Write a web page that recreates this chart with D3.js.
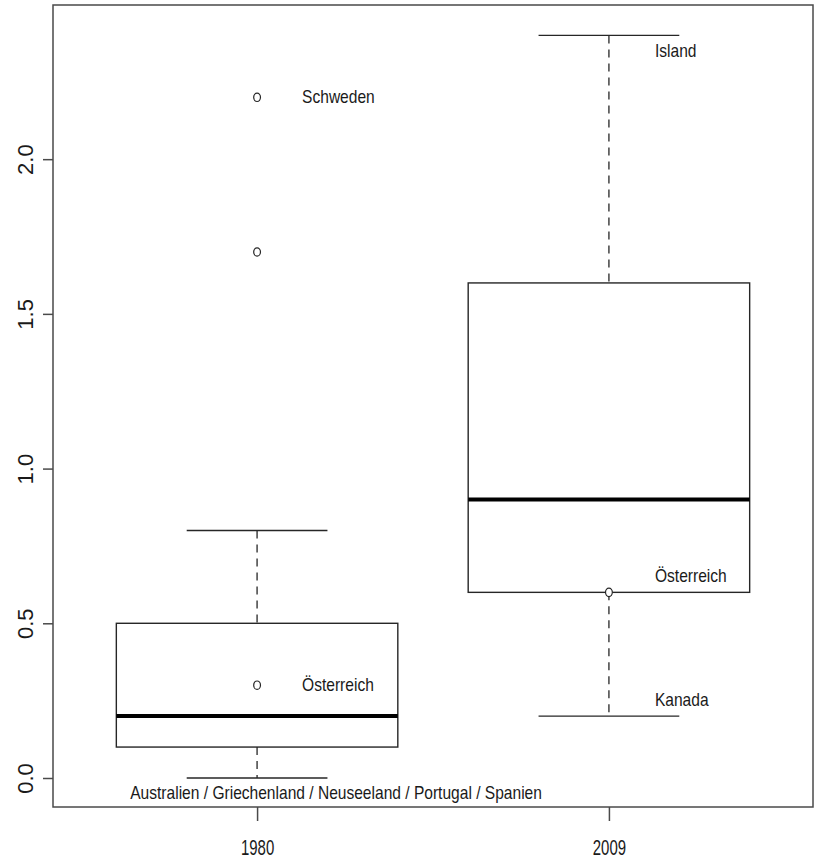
<!DOCTYPE html>
<html>
<head>
<meta charset="utf-8">
<script src="https://cdn.jsdelivr.net/npm/d3@7"></script>
<style>
  html, body { margin: 0; padding: 0; background: #fff; }
  svg { display: block; }
  text { font-family: "Liberation Sans", Arial, sans-serif; fill: #1a1a1a; }
</style>
</head>
<body>
<svg id="chart" width="819" height="861"></svg>
<script>
// Groups (years) and their five-number summaries
const years = ["1980", "2009"];
const whiskerLow = [0.0, 0.2];
const q1 = [0.1, 0.6];
const medians = [0.2, 0.9];
const q3 = [0.5, 1.6];
const whiskerHigh = [0.8, 2.4];

// Individually drawn points (group index, value)
const pointGroup = [0, 0, 0, 1];
const pointValue = [2.2, 1.7, 0.3, 0.6];

// Country annotations (group index, value, text, placement)
const labelGroup = [0, 0, 0, 1, 1, 1];
const labelValue = [2.2, 0.3, 0.0, 2.4, 0.6, 0.2];
const labelText = ["Schweden", "Österreich",
  "Australien / Griechenland / Neuseeland / Portugal / Spanien",
  "Island", "Österreich", "Kanada"];
const labelPlace = ["right", "right", "below", "belowRight", "aboveRight", "aboveRight"];

const yTicks = [0, 0.5, 1.0, 1.5, 2.0];

const svg = d3.select("#chart");
const plot = { left: 53, right: 813, top: 5, bottom: 807 };

const x = d3.scaleLinear().domain([0.42, 2.58]).range([plot.left, plot.right]);
const y = d3.scaleLinear().domain([0, 2.4]).range([778, 35.4]);
const gx = i => x(i + 1);

const boxHalf = 0.4, capHalf = 0.2;
const ink = "#262626";

// Whiskers (dashed)
const g = svg.append("g");
years.forEach((yr, i) => {
  g.append("line")
    .attr("x1", gx(i)).attr("x2", gx(i))
    .attr("y1", y(whiskerHigh[i])).attr("y2", y(q3[i]))
    .attr("stroke", ink).attr("stroke-width", 1.3).attr("stroke-dasharray", "8,6");
  g.append("line")
    .attr("x1", gx(i)).attr("x2", gx(i))
    .attr("y1", y(q1[i])).attr("y2", y(whiskerLow[i]))
    .attr("stroke", ink).attr("stroke-width", 1.3).attr("stroke-dasharray", "8,6");
  // caps
  [whiskerLow[i], whiskerHigh[i]].forEach(v => {
    g.append("line")
      .attr("x1", x(i + 1 - capHalf)).attr("x2", x(i + 1 + capHalf))
      .attr("y1", y(v)).attr("y2", y(v))
      .attr("stroke", ink).attr("stroke-width", 1.4);
  });
  // box
  g.append("rect")
    .attr("x", x(i + 1 - boxHalf)).attr("y", y(q3[i]))
    .attr("width", x(i + 1 + boxHalf) - x(i + 1 - boxHalf))
    .attr("height", y(q1[i]) - y(q3[i]))
    .attr("fill", "none").attr("stroke", ink).attr("stroke-width", 1.4);
  // median
  g.append("line")
    .attr("x1", x(i + 1 - boxHalf)).attr("x2", x(i + 1 + boxHalf))
    .attr("y1", y(medians[i])).attr("y2", y(medians[i]))
    .attr("stroke", "#000").attr("stroke-width", 4);
});

// Points
pointValue.forEach((v, k) => {
  g.append("ellipse")
    .attr("cx", gx(pointGroup[k])).attr("cy", y(v))
    .attr("rx", 3.4).attr("ry", 4.2)
    .attr("fill", "#fff").attr("stroke", ink).attr("stroke-width", 1.2);
});

// Annotations
const labelFont = 17.5, labelSquash = 0.89;
const placeOffset = {
  right:      { dx: 45,  dy: 0,   anchor: "start" },
  belowRight: { dx: 46,  dy: 15,  anchor: "start" },
  aboveRight: { dx: 46,  dy: -16, anchor: "start" },
  below:      { dx: 79,  dy: 15,  anchor: "middle" }
};
labelText.forEach((t, k) => {
  const p = placeOffset[labelPlace[k]];
  const px = gx(labelGroup[k]) + p.dx;
  const py = y(labelValue[k]) + p.dy;
  g.append("text")
    .attr("transform", `translate(${px},${py}) scale(${labelSquash},1)`)
    .attr("text-anchor", p.anchor)
    .attr("dy", "0.35em")
    .style("font-size", labelFont + "px")
    .text(t);
});

// Frame
svg.append("rect")
  .attr("x", plot.left).attr("y", plot.top)
  .attr("width", plot.right - plot.left).attr("height", plot.bottom - plot.top)
  .attr("fill", "none").attr("stroke", "#4a4a4a").attr("stroke-width", 1.5);

// Y axis
const yAxis = svg.append("g").attr("transform", `translate(${plot.left},0)`)
  .call(d3.axisLeft(y).tickValues(yTicks).tickSize(10).tickFormat(d3.format(".1f")));
yAxis.select(".domain").remove();
yAxis.selectAll(".tick line").attr("stroke", "#4a4a4a").attr("stroke-width", 1.5);
yAxis.selectAll(".tick text")
  .attr("x", null).attr("dy", null)
  .attr("text-anchor", "middle")
  .attr("transform", "translate(-20,0) rotate(-90)")
  .style("font-size", "22px").style("font-family", "'Liberation Sans', Arial, sans-serif")
  .attr("fill", "#1a1a1a");

// X axis
const xAxis = svg.append("g").attr("transform", `translate(0,${plot.bottom})`)
  .call(d3.axisBottom(x).tickValues(years.map((_, i) => i + 1)).tickSize(14)
    .tickFormat((d, i) => years[i]));
xAxis.select(".domain").remove();
xAxis.selectAll(".tick line").attr("stroke", "#4a4a4a").attr("stroke-width", 1.5);
xAxis.selectAll(".tick text")
  .attr("y", null).attr("dy", null)
  .attr("transform", "translate(0,48) scale(0.68,1)")
  .style("font-size", "22px").style("font-family", "'Liberation Sans', Arial, sans-serif")
  .attr("fill", "#1a1a1a");
</script>
</body>
</html>
